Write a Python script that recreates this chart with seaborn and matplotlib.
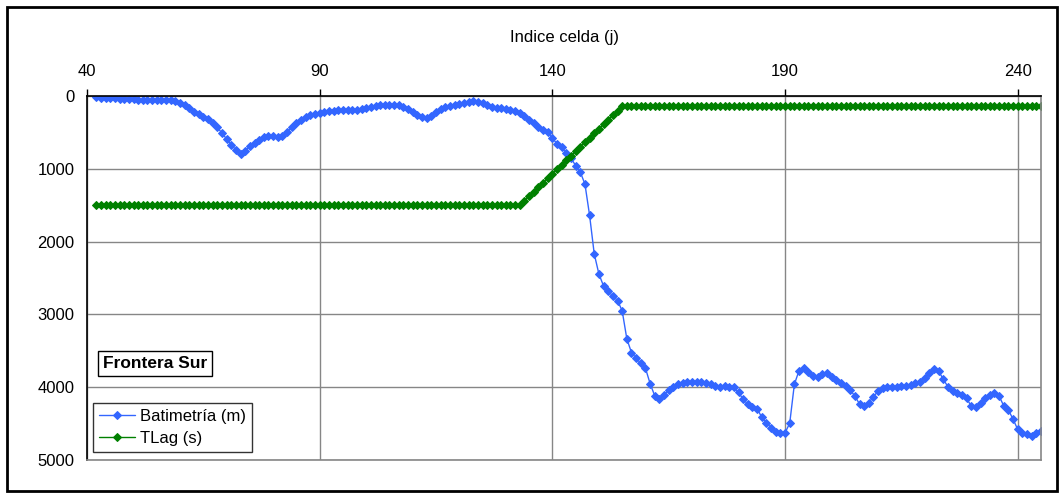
import numpy as np
import pandas as pd
import matplotlib
matplotlib.use('Agg')
import matplotlib.pyplot as plt
from matplotlib.patches import Rectangle
import seaborn as sns

# indice de celda j (eje X)
celdas = list(range(42, 246))

# batimetria (m)
batimetria = [
    20, 25, 25, 30, 30, 35, 35, 40, 45, 50, 50, 50, 50, 50, 50, 50, 55, 75, 100, 130,
    170, 215, 250, 285, 310, 370, 430, 510, 590, 670, 740, 790, 750, 690, 640, 600, 570, 550, 550, 570,
    545, 495, 430, 370, 330, 295, 265, 245, 230, 215, 205, 200, 197, 197, 197, 195, 192, 183, 168, 150,
    133, 122, 119, 119, 119, 125, 150, 180, 220, 265, 293, 300, 270, 215, 175, 155, 140, 125, 105, 90,
    78, 73, 80, 100, 125, 145, 158, 168, 180, 192, 210, 235, 280, 325, 370, 420, 465, 500, 580, 655,
    705, 785, 855, 955, 1045, 1210, 1640, 2170, 2445, 2610, 2685, 2745, 2810, 2950, 3335, 3525, 3600, 3672, 3738, 3950,
    4118, 4167, 4110, 4038, 4002, 3961, 3938, 3924, 3924, 3924, 3933, 3947, 3961, 3984, 3993, 3984, 3993, 4002, 4071, 4167,
    4231, 4267, 4295, 4414, 4487, 4556, 4611, 4634, 4625, 4496, 3961, 3773, 3741, 3796, 3846, 3855, 3823, 3810, 3855, 3895,
    3940, 3984, 4039, 4121, 4231, 4258, 4212, 4130, 4053, 4016, 4002, 3993, 3993, 3984, 3979, 3970, 3947, 3924, 3869, 3810,
    3755, 3778, 3892, 3993, 4048, 4085, 4107, 4153, 4258, 4267, 4222, 4153, 4107, 4085, 4121, 4258, 4313, 4441, 4579, 4634,
    4643, 4670, 4625, 4598,
]

# TLag (s)
tlag = [
    1500, 1500, 1500, 1500, 1500, 1500, 1500, 1500, 1500, 1500, 1500, 1500, 1500, 1500, 1500, 1500, 1500, 1500, 1500, 1500,
    1500, 1500, 1500, 1500, 1500, 1500, 1500, 1500, 1500, 1500, 1500, 1500, 1500, 1500, 1500, 1500, 1500, 1500, 1500, 1500,
    1500, 1500, 1500, 1500, 1500, 1500, 1500, 1500, 1500, 1500, 1500, 1500, 1500, 1500, 1500, 1500, 1500, 1500, 1500, 1500,
    1500, 1500, 1500, 1500, 1500, 1500, 1500, 1500, 1500, 1500, 1500, 1500, 1500, 1500, 1500, 1500, 1500, 1500, 1500, 1500,
    1500, 1500, 1500, 1500, 1500, 1500, 1500, 1500, 1500, 1500, 1500, 1500, 1440, 1375, 1315, 1255, 1190, 1130, 1070, 1005,
    945, 885, 820, 760, 700, 635, 575, 515, 450, 390, 330, 265, 205, 140, 140, 140, 140, 140, 140, 140,
    140, 140, 140, 140, 140, 140, 140, 140, 140, 140, 140, 140, 140, 140, 140, 140, 140, 140, 140, 140,
    140, 140, 140, 140, 140, 140, 140, 140, 140, 140, 140, 140, 140, 140, 140, 140, 140, 140, 140, 140,
    140, 140, 140, 140, 140, 140, 140, 140, 140, 140, 140, 140, 140, 140, 140, 140, 140, 140, 140, 140,
    140, 140, 140, 140, 140, 140, 140, 140, 140, 140, 140, 140, 140, 140, 140, 140, 140, 140, 140, 140,
    140, 140, 140, 140,
]

xticks = [40, 90, 140, 190, 240]
yticks = [0, 1000, 2000, 3000, 4000, 5000]

sns.set_style('white')
plt.rcParams['font.family'] = ['Liberation Sans', 'DejaVu Sans']
plt.rcParams['text.color'] = 'black'
plt.rcParams['axes.labelcolor'] = 'black'
plt.rcParams['xtick.color'] = 'black'
plt.rcParams['ytick.color'] = 'black'

fig = plt.figure(figsize=(10.62, 4.99), dpi=100)
ax = fig.add_axes([87 / 1062, 1 - 460 / 499, 954 / 1062, 364 / 499])

# marco exterior
fig.patches.append(Rectangle((7 / 1062, 8 / 499), 1050 / 1062, 484 / 499,
                             transform=fig.transFigure, fill=False,
                             edgecolor='black', linewidth=2))

azul = '#3366FF'
verde = '#008000'
sns.lineplot(x=celdas, y=batimetria, ax=ax, color=azul, marker='D', markersize=4.2,
             markeredgecolor=azul, linewidth=1, label='Batimetría (m)')
sns.lineplot(x=celdas, y=tlag, ax=ax, color=verde, marker='D', markersize=4.2,
             markeredgecolor=verde, linewidth=1, label='TLag (s)')

ax.set_xlim(40, 245)
ax.set_ylim(5000, 0)
ax.set_xticks(xticks)
ax.set_yticks(yticks)
ax.xaxis.tick_top()
ax.xaxis.set_label_position('top')
ax.set_xlabel('Indice celda (j)', fontsize=12, labelpad=16)
ax.set_ylabel('')
ax.tick_params(axis='both', labelsize=12, length=5, width=1, color='black',
               labelcolor='black', direction='out')
ax.tick_params(axis='x', pad=7)
ax.tick_params(axis='y', pad=4)

ax.grid(True, color='#868686', linewidth=1)
ax.set_axisbelow(True)
for lado in ['bottom', 'right']:
    ax.spines[lado].set_color('#868686')
    ax.spines[lado].set_linewidth(1.2)
for lado in ['top', 'left']:
    ax.spines[lado].set_color('black')
    ax.spines[lado].set_linewidth(1.2)

leg = ax.legend(loc='lower left', bbox_to_anchor=(0.006, 0.022), fontsize=12,
                frameon=True, fancybox=False, edgecolor='black', handlelength=2.2,
                borderpad=0.35, labelspacing=0.45, handletextpad=0.3, borderaxespad=0)
leg.get_frame().set_linewidth(1)
for t in leg.get_texts():
    t.set_color('black')

ax.text(0.0713, 0.266, 'Frontera Sur', transform=ax.transAxes, fontsize=12.5,
        fontweight='bold', ha='center', va='center', color='black',
        bbox=dict(boxstyle='square,pad=0.28', facecolor='white', edgecolor='black', linewidth=1))

fig.savefig('out.png', dpi=100)
